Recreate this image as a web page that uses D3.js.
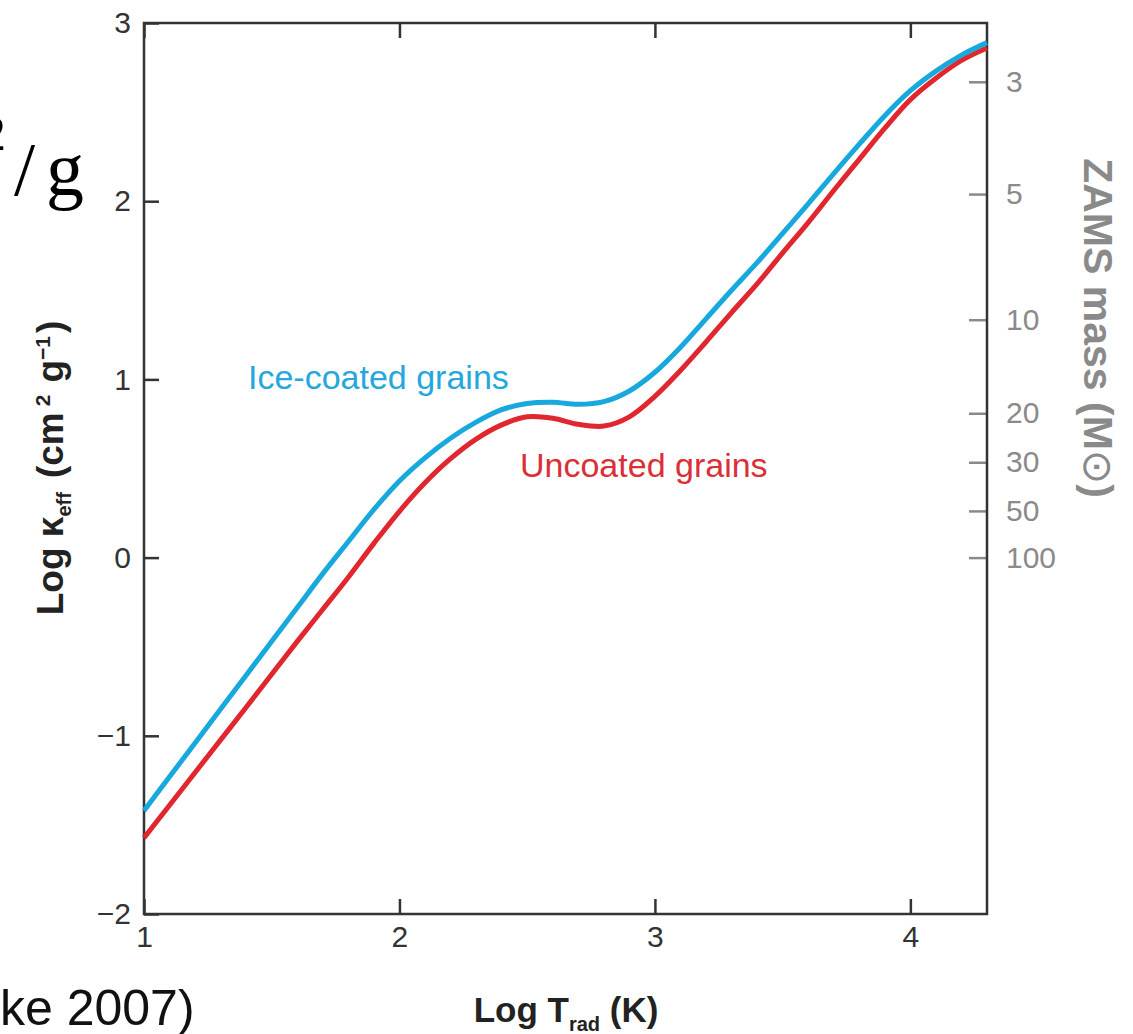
<!DOCTYPE html>
<html>
<head>
<meta charset="utf-8">
<script src="https://cdn.jsdelivr.net/npm/d3@7"></script>
<style>
  body { margin: 0; background: #fff; }
  text { font-family: "Liberation Sans", Arial, sans-serif; }
</style>
</head>
<body>
<div id="chart"></div>
<script>
// log T_rad (K) sample points
var logT = [1.0, 1.1, 1.2, 1.3, 1.4, 1.5, 1.6, 1.7, 1.8, 1.9, 2.0, 2.1, 2.2, 2.3, 2.4, 2.5, 2.6,
  2.7, 2.8, 2.9, 3.0, 3.1, 3.2, 3.3, 3.4, 3.5, 3.6, 3.7, 3.8, 3.9, 4.0, 4.1, 4.2, 4.3];
// log kappa_eff, ice-coated grains
var iceCoated = [-1.42, -1.23, -1.04, -0.85, -0.66, -0.47, -0.28, -0.09, 0.09, 0.27, 0.43, 0.56, 0.67,
  0.76, 0.83, 0.865, 0.872, 0.86, 0.875, 0.935, 1.04, 1.18, 1.34, 1.50, 1.655, 1.82, 1.985, 2.155,
  2.32, 2.48, 2.62, 2.73, 2.82, 2.89];
// log kappa_eff, uncoated grains
var uncoated = [-1.573, -1.39, -1.206, -1.023, -0.84, -0.655, -0.47, -0.29, -0.11, 0.08, 0.26, 0.42,
  0.555, 0.665, 0.745, 0.79, 0.782, 0.748, 0.738, 0.79, 0.905, 1.05, 1.21, 1.375, 1.536, 1.71, 1.88,
  2.06, 2.235, 2.41, 2.57, 2.69, 2.79, 2.86];

var xTicks = [1, 2, 3, 4];
var yTicks = [-2, -1, 0, 1, 2, 3];
// right axis: ZAMS mass labels and where they sit on the log kappa scale
var massLabels = ["3", "5", "10", "20", "30", "50", "100"];
var massAt = [2.67, 2.04, 1.335, 0.81, 0.535, 0.262, 0.0];

var width = 1133, height = 1034;
var margin = { top: 23, right: 146, bottom: 120, left: 144 };

var svg = d3.select("#chart")
  .append("svg")
  .attr("width", width)
  .attr("height", height);

var x = d3.scaleLinear()
  .domain([1, 4.3])
  .range([margin.left, width - margin.right]);

var y = d3.scaleLinear()
  .domain([-2, 3])
  .range([height - margin.bottom, margin.top]);

var axisColor = "#333";
var massColor = "#8a8a8a";

function styleAxis(g, col) {
  g.select(".domain").remove();
  g.selectAll(".tick line").attr("stroke", col).attr("stroke-width", 2.5);
  g.selectAll(".tick text")
    .attr("fill", col)
    .style("font-size", "30px")
    .style("font-family", "'Liberation Sans', Arial, sans-serif");
}

// bottom axis
svg.append("g")
  .attr("transform", "translate(0," + y(-2) + ")")
  .call(d3.axisBottom(x).tickValues(xTicks).tickFormat(d3.format("d"))
    .tickSizeInner(-15).tickSizeOuter(0).tickPadding(12))
  .call(function (g) { styleAxis(g, axisColor); });

// top axis (ticks only)
svg.append("g")
  .attr("transform", "translate(0," + y(3) + ")")
  .call(d3.axisTop(x).tickValues(xTicks).tickFormat("")
    .tickSizeInner(-15).tickSizeOuter(0))
  .call(function (g) { styleAxis(g, axisColor); });

// left axis
svg.append("g")
  .attr("transform", "translate(" + x(1) + ",0)")
  .call(d3.axisLeft(y).tickValues(yTicks).tickFormat(d3.format("d"))
    .tickSizeInner(-15).tickSizeOuter(0).tickPadding(13))
  .call(function (g) { styleAxis(g, axisColor); });

// right axis: ZAMS mass
svg.append("g")
  .attr("transform", "translate(" + x(4.3) + ",0)")
  .call(d3.axisRight(y).tickValues(massAt).tickFormat(function (d, i) { return massLabels[i]; })
    .tickSizeInner(-18).tickSizeOuter(0).tickPadding(19))
  .call(function (g) { styleAxis(g, massColor); });

// frame
svg.append("rect")
  .attr("x", x(1))
  .attr("y", y(3))
  .attr("width", x(4.3) - x(1))
  .attr("height", y(-2) - y(3))
  .attr("fill", "none")
  .attr("stroke", axisColor)
  .attr("stroke-width", 2.5);

// curves
var line = d3.line()
  .x(function (d) { return x(d[0]); })
  .y(function (d) { return y(d[1]); })
  .curve(d3.curveCatmullRom.alpha(0.5));

var series = [
  { values: uncoated, color: "#e0262e" },
  { values: iceCoated, color: "#17a8dd" }
];

svg.selectAll(".curve")
  .data(series)
  .enter()
  .append("path")
  .attr("class", "curve")
  .attr("d", function (s) { return line(d3.zip(logT, s.values)); })
  .attr("fill", "none")
  .attr("stroke", function (s) { return s.color; })
  .attr("stroke-width", 5);

// curve labels
svg.append("text")
  .attr("x", 248).attr("y", 389)
  .attr("fill", "#24a7dd")
  .style("font-size", "34px")
  .text("Ice-coated grains");

svg.append("text")
  .attr("x", 520).attr("y", 477)
  .attr("fill", "#dc2e36")
  .style("font-size", "34px")
  .text("Uncoated grains");

// y title
var yt = svg.append("text")
  .attr("transform", "translate(63," + 468 + ") rotate(-90)")
  .attr("text-anchor", "middle")
  .attr("fill", "#222")
  .style("font-size", "37px")
  .style("font-weight", "bold");
yt.append("tspan").text("Log κ");
yt.append("tspan").attr("dy", 8).style("font-size", "20px").text("eff");
yt.append("tspan").attr("dy", -8).attr("dx", 14).text("(cm");
yt.append("tspan").attr("dy", -13).style("font-size", "21px").attr("dx", 6).text("2");
yt.append("tspan").attr("dy", 13).attr("dx", 12).text("g");
yt.append("tspan").attr("dy", -13).style("font-size", "21px").text("−1");
yt.append("tspan").attr("dy", 13).attr("dx", 3).text(")");

// x title
var xt = svg.append("text")
  .attr("x", 566).attr("y", 1022)
  .attr("text-anchor", "middle")
  .attr("fill", "#222")
  .style("font-size", "35px")
  .style("font-weight", "bold");
xt.append("tspan").text("Log T");
xt.append("tspan").attr("dy", 9).style("font-size", "20px").text("rad");
xt.append("tspan").attr("dy", -9).text(" (K)");

// right title
var rt = svg.append("text")
  .attr("transform", "translate(1084,328) rotate(90)")
  .attr("text-anchor", "middle")
  .attr("fill", massColor)
  .style("font-size", "41px")
  .style("font-weight", "bold");
rt.append("tspan").text("ZAMS mass (M");
rt.append("tspan").style("font-family", "'DejaVu Sans', sans-serif").style("font-weight", "normal").text("⊙");
rt.append("tspan").text(")");

// slide fragments around the figure
svg.append("text")
  .attr("x", 6).attr("y", 150)
  .attr("text-anchor", "end")
  .style("font-family", "'Liberation Serif', serif")
  .style("font-size", "50px")
  .text("2");
svg.append("text")
  .attr("x", 14).attr("y", 195)
  .style("font-family", "'Liberation Serif', serif")
  .style("font-size", "76px")
  .text("/");
svg.append("text")
  .attr("x", 46).attr("y", 195)
  .style("font-family", "'Liberation Serif', serif")
  .style("font-size", "76px")
  .text("g");
svg.append("text")
  .attr("x", 0).attr("y", 1025)
  .attr("fill", "#111")
  .style("font-size", "50px")
  .text("ke 2007)");
</script>
</body>
</html>
